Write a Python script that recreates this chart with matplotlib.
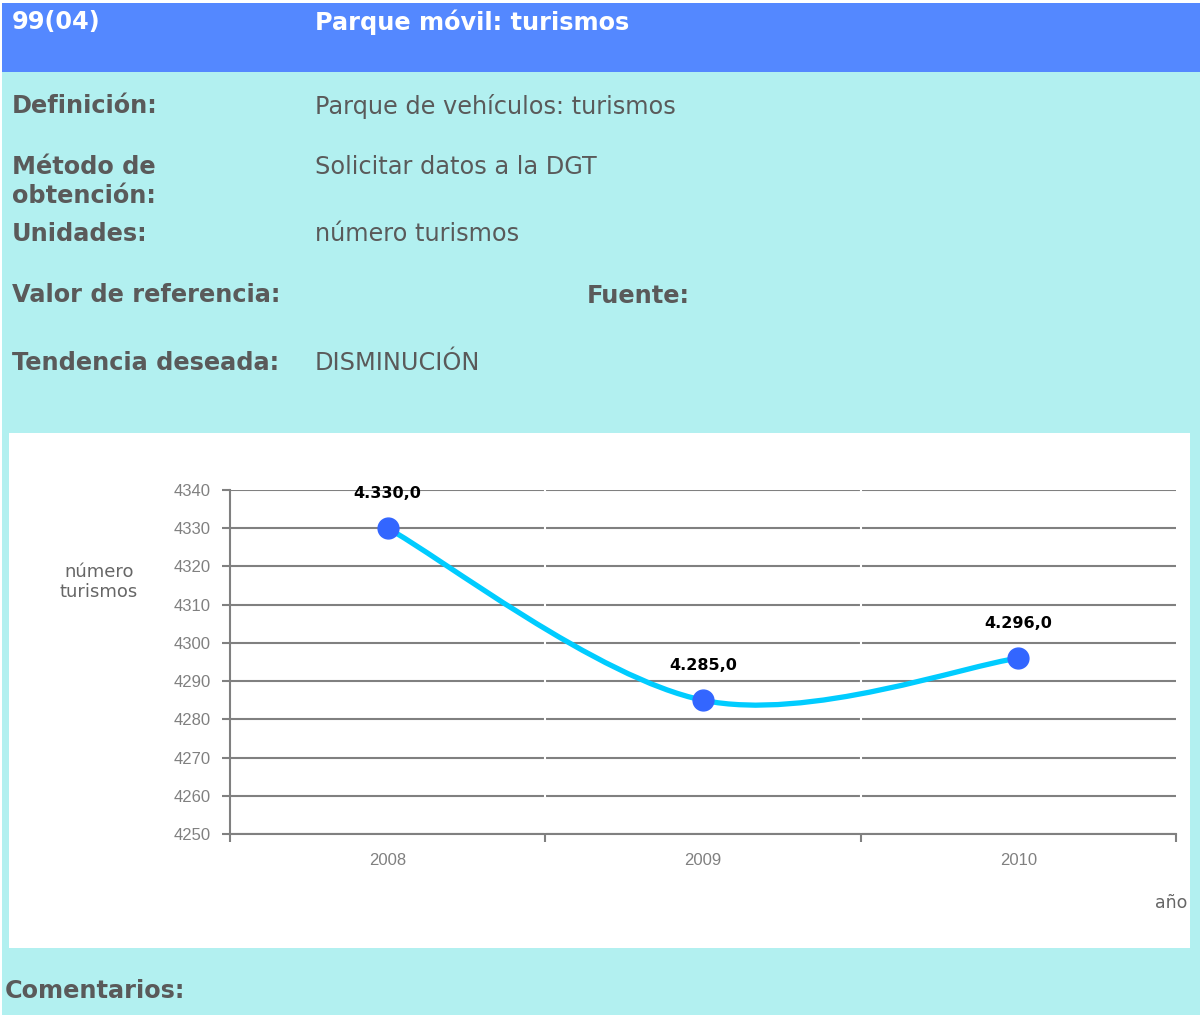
import matplotlib
matplotlib.use("Agg")
import matplotlib.pyplot as plt
from matplotlib.patches import Rectangle, PathPatch
from matplotlib.path import Path
import numpy as np

# data
years = ["2008", "2009", "2010"]
values = [4330.0, 4285.0, 4296.0]
value_labels = ["4.330,0", "4.285,0", "4.296,0"]
yticks = [4250, 4260, 4270, 4280, 4290, 4300, 4310, 4320, 4330, 4340]

# colours
header_blue = "#5488FF"
bg_cyan = "#B2F0F0"
text_grey = "#5A5A5A"
axis_grey = "#808080"
line_cyan = "#00CCFF"
marker_blue = "#3366FF"

W, H = 1200, 1015
fig = plt.figure(figsize=(W / 100, H / 100), dpi=100)
fig.patch.set_facecolor("white")

# background layer in pixel coordinates
bg = fig.add_axes([0, 0, 1, 1])
bg.set_xlim(0, W)
bg.set_ylim(H, 0)
bg.axis("off")
bg.add_patch(Rectangle((2, 3), W - 2, H - 3, color=bg_cyan, lw=0))
bg.add_patch(Rectangle((2, 3), W - 2, 69, color=header_blue, lw=0))
bg.add_patch(Rectangle((9, 433), 1181, 515, color="white", lw=0))

hfont = dict(family="DejaVu Sans", fontsize=17.3, fontweight="bold", color="white", va="center")
bg.text(12, 22, "99(04)", **hfont)
bg.text(315, 22, "Parque móvil: turismos", **hfont)

lab = dict(family="DejaVu Sans", fontsize=17.3, fontweight="bold", color=text_grey, va="center")
val = dict(family="DejaVu Sans", fontsize=17.3, color=text_grey, va="center")
bg.text(12, 106, "Definición:", **lab)
bg.text(315, 106, "Parque de vehículos: turismos", **val)
bg.text(12, 167, "Método de", **lab)
bg.text(12, 196, "obtención:", **lab)
bg.text(315, 167, "Solicitar datos a la DGT", **val)
bg.text(12, 234, "Unidades:", **lab)
bg.text(315, 234, "número turismos", **val)
bg.text(12, 295, "Valor de referencia:", **lab)
bg.text(587, 296, "Fuente:", **lab)
bg.text(12, 363, "Tendencia deseada:", **lab)
bg.text(315, 363, "DISMINUCIÓN", **val)
bg.text(5, 991, "Comentarios:", **lab)

bg.text(99, 582, "número\nturismos", family="DejaVu Sans", fontsize=13,
        color="#666666", ha="center", va="center", linespacing=1.15)
bg.text(1187, 903, "año", family="DejaVu Sans", fontsize=12.5,
        color="#666666", ha="right", va="center")

# chart
ax = fig.add_axes([230 / W, 1 - 834 / H, 946 / W, 344 / H])
ax.set_facecolor("none")
x = np.arange(len(years))
ax.set_xlim(-0.5, len(years) - 0.5)
ax.set_ylim(4250, 4340)

for s in ["top", "right"]:
    ax.spines[s].set_visible(False)
for s in ["left", "bottom"]:
    ax.spines[s].set_color(axis_grey)
    ax.spines[s].set_linewidth(1.5)

ax.set_yticks(yticks)
ax.set_yticklabels([str(v) for v in yticks])
ax.yaxis.grid(True, color=axis_grey, lw=1.5, zorder=1)
ax.set_axisbelow(True)

ax.set_xticks(x)
ax.set_xticklabels(years)
ax.set_xticks(np.arange(-0.5, len(years)), minor=True)
ax.tick_params(axis="x", which="major", length=0, pad=14)
ax.tick_params(axis="x", which="minor", length=6, color=axis_grey, width=1.5)
ax.tick_params(axis="y", length=6, color=axis_grey, width=1.5, pad=8)
for t in ax.get_xticklabels() + ax.get_yticklabels():
    t.set_family("Liberation Sans")
    t.set_fontsize(12)
    t.set_color(axis_grey)

# white separators between categories
for b in np.arange(0.5, len(years) - 0.5):
    ax.axvline(b, color="white", lw=1.5, zorder=1.5)

# smoothed line (Catmull-Rom style bezier through the data points)
pts = np.column_stack([x, values]).astype(float)
verts = [tuple(pts[0])]
codes = [Path.MOVETO]
n = len(pts)
for i in range(n - 1):
    p0 = pts[max(i - 1, 0)]
    p1 = pts[i]
    p2 = pts[i + 1]
    p3 = pts[min(i + 2, n - 1)]
    c1 = p1 + (p2 - p0) / 6
    c2 = p2 - (p3 - p1) / 6
    verts += [tuple(c1), tuple(c2), tuple(p2)]
    codes += [Path.CURVE4] * 3
ax.add_patch(PathPatch(Path(verts, codes), fill=False, edgecolor=line_cyan,
                       lw=3.8, capstyle="round", joinstyle="round", zorder=3))
ax.plot(x, values, "o", color=marker_blue, markersize=15, zorder=4, clip_on=False)

for xi, v, s in zip(x, values, value_labels):
    ax.annotate(s, (xi, v), xytext=(0, 25), textcoords="offset points",
                ha="center", va="center", family="DejaVu Sans",
                fontsize=11.5, fontweight="bold", color="black", zorder=5)

fig.savefig("out.png", dpi=100)
